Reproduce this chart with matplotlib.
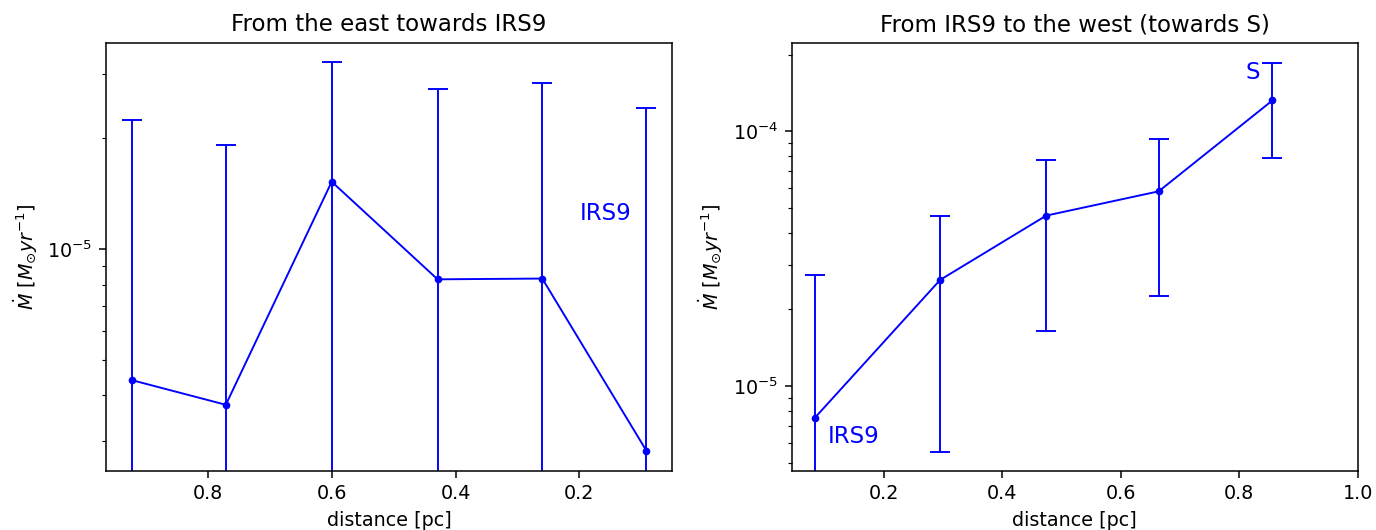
import matplotlib
matplotlib.use('Agg')
import matplotlib.pyplot as plt

# east -> IRS9
dist_east = [0.923, 0.771, 0.600, 0.429, 0.260, 0.092]
mdot_east = [4.40e-6, 3.77e-6, 1.524e-5, 8.27e-6, 8.31e-6, 2.83e-6]
err_east = [1.80e-5, 1.541e-5, 1.704e-5, 1.889e-5, 1.999e-5, 2.129e-5]

# IRS9 -> west (towards S)
dist_west = [0.083, 0.295, 0.474, 0.664, 0.856]
mdot_west = [7.49e-6, 2.612e-5, 4.67e-5, 5.817e-5, 1.323e-4]
err_west = [1.975e-5, 2.06e-5, 3.03e-5, 3.55e-5, 5.4e-5]

fig = plt.figure(figsize=(10, 3.852), dpi=137.6)
ax1 = fig.add_axes([0.0770, 0.1113, 0.4114, 0.8081])
ax2 = fig.add_axes([0.5754, 0.1113, 0.4113, 0.8081])

ax1.errorbar(dist_east, mdot_east, yerr=err_east, fmt='b.-', lw=1, capsize=5)
ax1.set_yscale('log')
ax1.set_ylim(2.49e-6, 3.64e-5)
ax1.invert_xaxis()
ax1.text(0.2, 1.2e-5, 'IRS9', color='b', fontsize=12)
ax1.set_title('From the east towards IRS9')
ax1.set_xlabel('distance [pc]')
ax1.set_ylabel(r'$\dot{M}$ [$M_{\odot} yr^{-1}$]')

ax2.errorbar(dist_west, mdot_west, yerr=err_west, fmt='b.-', lw=1, capsize=5)
ax2.set_yscale('log')
ax2.set_ylim(4.64e-6, 2.23e-4)
ax2.set_xlim(right=1.0)
ax2.text(0.105, 6e-6, 'IRS9', color='b', fontsize=12)
ax2.text(0.81, 1.6e-4, 'S', color='b', fontsize=12)
ax2.set_title('From IRS9 to the west (towards S)')
ax2.set_xlabel('distance [pc]')
ax2.set_ylabel(r'$\dot{M}$ [$M_{\odot} yr^{-1}$]')

plt.savefig('out.png', dpi=137.6)
